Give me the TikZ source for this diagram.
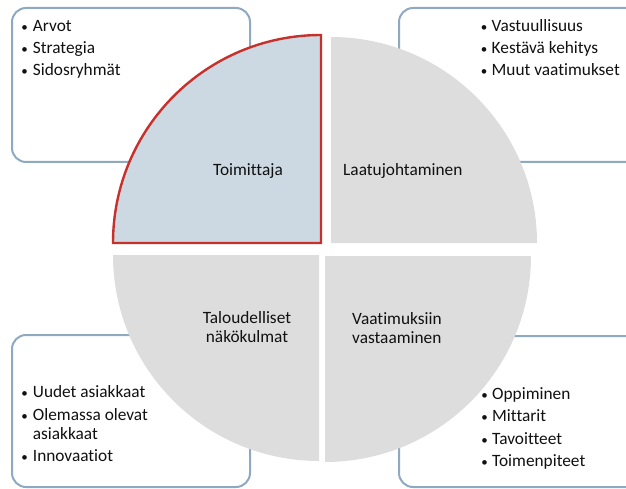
\documentclass[tikz,border=0pt]{standalone}
\usepackage{fontspec}
\setmainfont{Carlito}[Ligatures={NoCommon}]
\definecolor{boxline}{HTML}{8FAAC0}
\definecolor{quadgrey}{HTML}{DDDDDD}
\definecolor{quadblue}{HTML}{CCD9E2}
\definecolor{quadred}{HTML}{C8302B}
\definecolor{ink}{HTML}{111111}
\begin{document}
\begin{tikzpicture}[x=1pt,y=-1pt,
  infobox/.style={draw=boxline,line width=2pt,rounded corners=14pt,fill=white},
  quad/.style={fill=quadgrey,draw=none},
  quadsel/.style={fill=quadblue,draw=quadred,line width=2.4pt,line join=miter},
  lbl/.style={inner sep=0pt,text=ink,font=\fontsize{17.3}{19.5}\selectfont},
  itemtext/.style={lbl,anchor=base west},
  bulletdot/.style={inner sep=0pt,text=ink,anchor=base,font=\fontsize{13}{15}\selectfont},
  quadtext/.style={lbl,anchor=base,align=center},
  quadtextl/.style={lbl,anchor=base west,align=left}]
\useasboundingbox (0,0) rectangle (626,489);
\clip (0,0) rectangle (626,489);

% outer boxes carrying the bullet lists
\draw[infobox] (12,8) rectangle (250,162);
\draw[infobox] (399,8) rectangle (660,162);
\draw[infobox] (12,335) rectangle (250,487);
\draw[infobox] (399,336) rectangle (660,487);

% the four quarter discs
\fill[quad] (331,243) -- (331,37) arc[start angle=90,end angle=0,radius=206pt] -- cycle;
\fill[quad] (319,255) -- (113,255) arc[start angle=180,end angle=270,radius=206pt] -- cycle;
\fill[quad] (325,256) -- (531,256) arc[start angle=0,end angle=-90,radius=206pt] -- cycle;
\draw[quadsel] (321,243) -- (113,243) arc[start angle=180,end angle=90,radius=208pt] -- cycle;

% quarter labels
\node[quadtext] (q1) at (248,176) {Toimittaja};
\node[quadtextl] (q2) at (343,176) {Laatujohtaminen};
\node[quadtext] (q3a) at (247,323) {Taloudelliset};
\node[quadtext] (q3b) at (247,342) {näkökulmat};
\node[quadtextl] (q4a) at (352,324) {Vaatimuksiin};
\node[quadtextl] (q4b) at (352,343) {vastaaminen};

% top left list
\node[bulletdot] (d11) at (24.7,32) {•};
\node[itemtext] (i11) at (32.7,32) {Arvot};
\node[bulletdot] (d12) at (24.7,54) {•};
\node[itemtext] (i12) at (32.7,54) {Strategia};
\node[bulletdot] (d13) at (24.7,76) {•};
\node[itemtext] (i13) at (32.7,76) {Sidosryhmät};

% top right list
\node[bulletdot] (d21) at (484,32) {•};
\node[itemtext] (i21) at (491.5,32) {Vastuullisuus};
\node[bulletdot] (d22) at (484,54) {•};
\node[itemtext] (i22) at (491.5,54) {Kestävä kehitys};
\node[bulletdot] (d23) at (484,76) {•};
\node[itemtext] (i23) at (491.5,76) {Muut vaatimukset};

% bottom left list
\node[bulletdot] (d31) at (24.7,397) {•};
\node[itemtext] (i31) at (32.7,397) {Uudet asiakkaat};
\node[bulletdot] (d32) at (24.7,420) {•};
\node[itemtext] (i32) at (32.7,420) {Olemassa olevat};
\node[itemtext] (i32b) at (32.7,439) {asiakkaat};
\node[bulletdot] (d33) at (24.7,461) {•};
\node[itemtext] (i33) at (32.7,461) {Innovaatiot};

% bottom right list
\node[bulletdot] (d41) at (484.5,399) {•};
\node[itemtext] (i41) at (492,399) {Oppiminen};
\node[bulletdot] (d42) at (484.5,421) {•};
\node[itemtext] (i42) at (492,421) {Mittarit};
\node[bulletdot] (d43) at (484.5,444) {•};
\node[itemtext] (i43) at (492,444) {Tavoitteet};
\node[bulletdot] (d44) at (484.5,466) {•};
\node[itemtext] (i44) at (492,466) {Toimenpiteet};
\end{tikzpicture}
\end{document}
